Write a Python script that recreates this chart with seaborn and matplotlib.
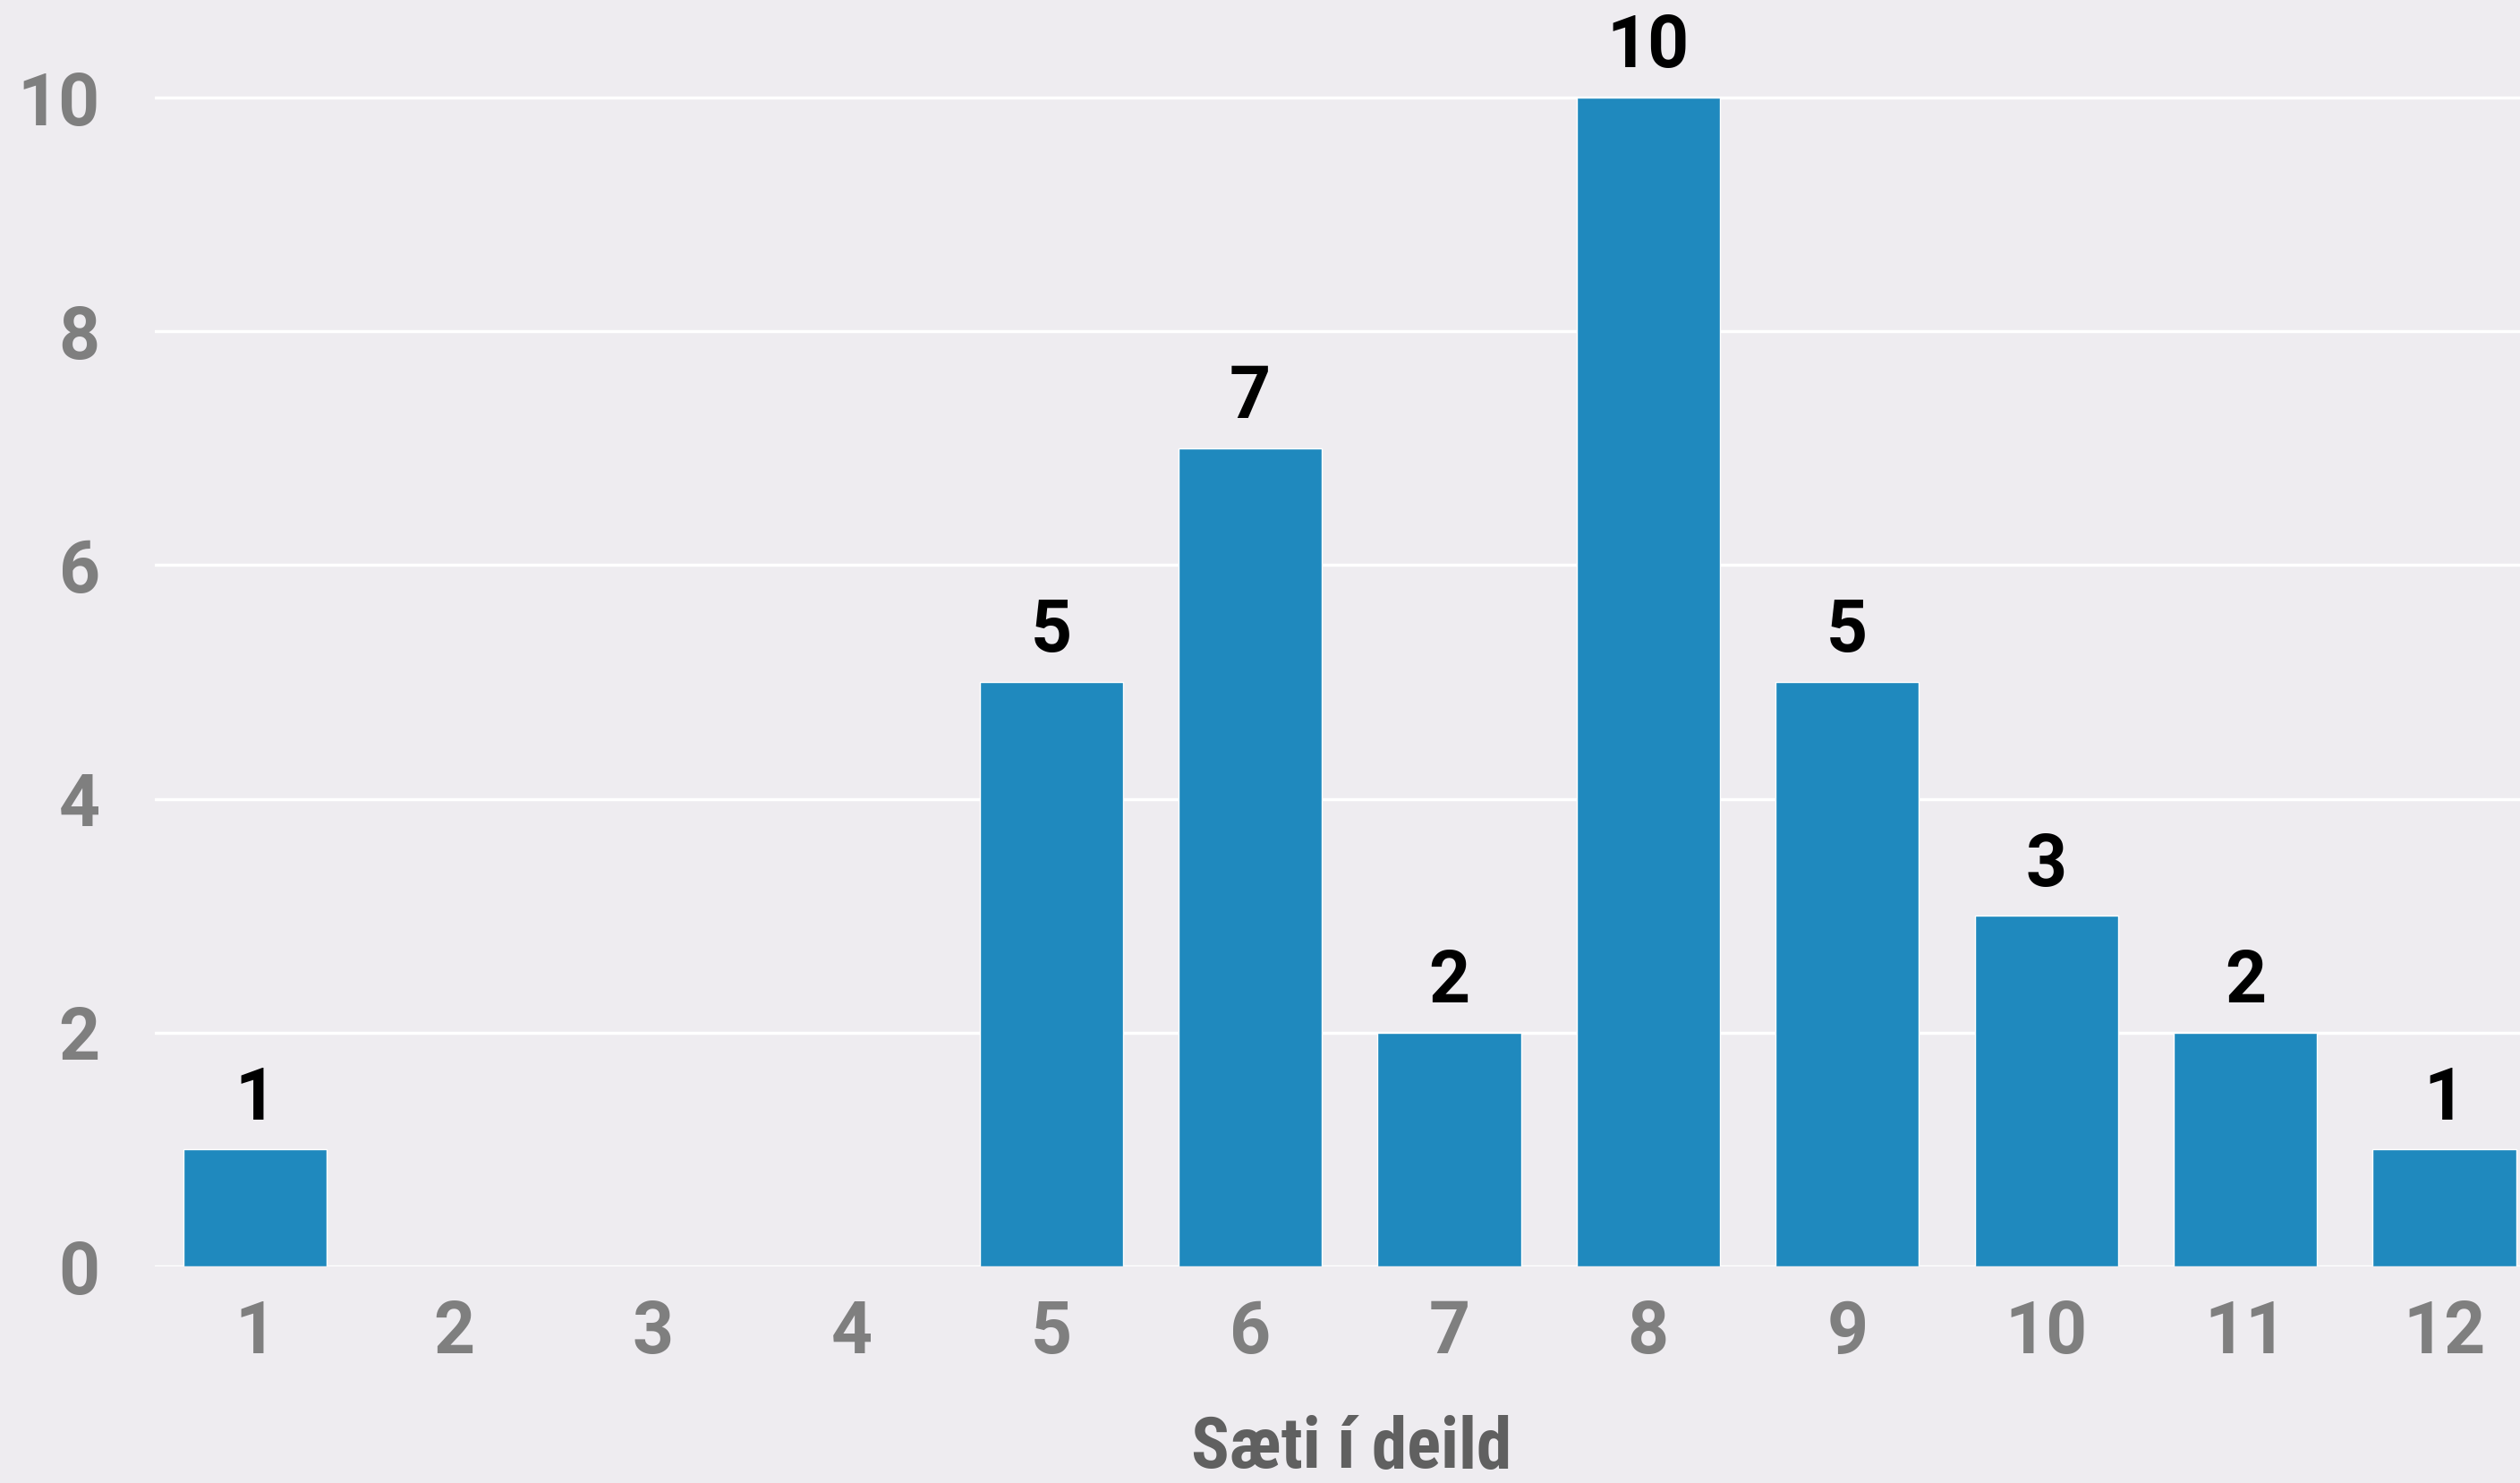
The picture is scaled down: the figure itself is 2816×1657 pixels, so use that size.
import matplotlib
matplotlib.use("Agg")
import matplotlib.pyplot as plt
import matplotlib.patheffects as pe
import seaborn as sns
import pandas as pd

categories = ["1", "2", "3", "4", "5", "6", "7", "8", "9", "10", "11", "12"]
values = [1, 0, 0, 0, 5, 7, 2, 10, 5, 3, 2, 1]
y_ticks = [0, 2, 4, 6, 8, 10]
x_label = "Sæti í deild"

bg = "#EEECF0"
bar_color = "#1F89BE"

sns.set_theme(style="white")
plt.rcParams["font.family"] = ["Roboto", "DejaVu Sans"]

df = pd.DataFrame({"cat": categories, "val": values})

fig = plt.figure(figsize=(28.16, 16.57), dpi=100)
fig.patch.set_facecolor(bg)
ax = fig.add_axes([0.0614, 0.146, 0.9386, 0.854])
ax.set_facecolor(bg)

sns.barplot(data=df, x="cat", y="val", color=bar_color, width=0.72,
            saturation=1, ax=ax, zorder=3)

for p in ax.patches:
    p.set_path_effects([pe.SimplePatchShadow(offset=(0, -3), shadow_rgbFace="#444444",
                                             alpha=0.3), pe.Normal()])

ax.set_ylim(0, 10.835)
ax.set_xlim(-0.504, 11.38)
ax.set_yticks(y_ticks)
ax.yaxis.grid(True, color="white", linewidth=2.5, zorder=0)
ax.set_axisbelow(True)
for s in ax.spines.values():
    s.set_visible(False)

ax.tick_params(axis="both", length=0)
ax.tick_params(axis="y", pad=44, labelsize=58, labelcolor="#7F7F7F")
ax.tick_params(axis="x", pad=26, labelsize=58, labelcolor="#7F7F7F")
for lbl in ax.get_xticklabels() + ax.get_yticklabels():
    lbl.set_fontweight("bold")

for i, v in enumerate(values):
    if v > 0:
        ax.annotate(str(v), (i, v), xytext=(0, 12), textcoords="offset points",
                    ha="center", va="bottom", fontsize=58, fontweight="bold",
                    color="black")

ax.set_xlabel(x_label, fontsize=57, fontweight="bold", color="#606060",
              family=["Roboto Condensed", "Liberation Sans Narrow", "Roboto", "DejaVu Sans"],
              va="baseline")
ax.xaxis.set_label_coords(0.506, -0.159)
ax.set_ylabel("")

fig.savefig("out.png", dpi=100, facecolor=bg)
